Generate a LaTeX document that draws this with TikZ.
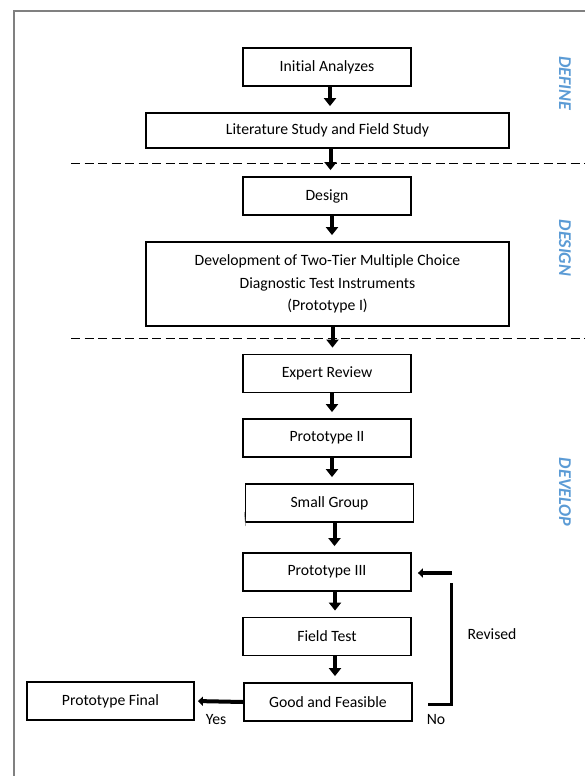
\documentclass[tikz,border=0pt]{standalone}
\usepackage{fontspec}
\setmainfont{Carlito}[Ligatures=NoCommon]
\usetikzlibrary{arrows.meta}
\definecolor{phaseblue}{RGB}{91,155,213}
\definecolor{framegray}{RGB}{128,128,128}

\begin{document}
\begin{tikzpicture}[x=1pt,y=-1pt,
  stagebox/.style={draw, line width=1.8pt, inner sep=0pt, align=center,
    font=\fontsize{15.7}{22.5}\selectfont},
  small/.style={stagebox, minimum width=168pt, minimum height=38pt},
  wide/.style={stagebox, minimum width=363pt},
  flow/.style={line width=4pt, shorten >=6pt, -{Triangle[length=8pt,width=12pt]}},
  sideflow/.style={line width=4pt, -{Triangle[length=5pt,width=9pt]}},
  phase/.style={rotate=-90, text=phaseblue, font=\fontsize{18}{20}\selectfont\bfseries\itshape},
  tag/.style={font=\fontsize{15.7}{18}\selectfont}]
%\draw[help lines] (0,0) grid (585,776);
\useasboundingbox (0,0) rectangle (585,776);

\draw[framegray, line width=1.5pt] (14,776) -- (14,11) -- (585,11);

\draw[line width=0.9pt, dash pattern=on 9pt off 4.5pt] (71,163) -- (585,163);
\draw[line width=0.9pt, dash pattern=on 9pt off 4.5pt] (71,338) -- (585,338);

\node[small] (init) at (327,67) {Initial Analyzes};
\node[wide, minimum height=35pt] (lit) at (327.5,130.5) {Literature Study and Field Study};
\node[small] (design) at (327,196) {Design};
\node[wide, minimum height=84pt] (dev) at (327.5,284) {Development of Two-Tier Multiple Choice\\Diagnostic Test Instruments\\(Prototype I)};
\node[small] (expert) at (327,373.5) {Expert Review};
\node[small] (proto2) at (327,438) {Prototype II};
\node[small] (smallgrp) at (329.5,503) {Small Group};
\node[small] (proto3) at (327,572) {Prototype III};
\node[small] (field) at (327,636.5) {Field Test};
\node[small] (good) at (328,702) {Good and Feasible};
\node[small, minimum width=167pt] (final) at (110.5,701) {Prototype Final};

\draw[flow] ([xshift=3pt]init.south) -- ([xshift=3pt]init.south |- lit.north);
\draw[flow] ([xshift=3pt]lit.south) -- ([xshift=3pt]lit.south |- design.north);
\draw[flow] ([xshift=5pt]design.south) -- ([xshift=5pt]design.south |- dev.north);
\draw[flow] ([xshift=5pt]dev.south) -- ([xshift=5pt]dev.south |- expert.north);
\draw[flow] ([xshift=5pt]expert.south) -- ([xshift=5pt]expert.south |- proto2.north);
\draw[flow] ([xshift=5pt]proto2.south) -- ([xshift=5pt]proto2.south |- smallgrp.north);
\draw[flow] ([xshift=5pt]smallgrp.south) -- ([xshift=5pt]smallgrp.south |- proto3.north);
\draw[flow] ([xshift=8pt]proto3.south) -- ([xshift=8pt]proto3.south |- field.north);
\draw[flow] ([xshift=8pt]field.south) -- ([xshift=8pt]field.south |- good.north);

\draw[sideflow, shorten >=3pt] (good.west) -- (final.east);

\coordinate (revtop) at (452,573);
\coordinate (revstart) at (451,583);
\coordinate (revcorner) at (451,704);
\coordinate (nostub) at (428,704);
\draw[sideflow, shorten >=6pt] (revtop) -- (revtop -| proto3.east);
\draw[line width=3pt] (revstart) -- (revcorner) -- (nostub);

\draw[framegray, line width=0.5pt] (244.3,512) -- (245.6,526);

\node[tag] (yes) at (216,720) {Yes};
\node[tag] (no) at (436,720) {No};
\node[tag] (revised) at (492,634) {Revised};

\node[phase] (define) at (565,83.5) {DEFINE};
\node[phase] (designlbl) at (565,248) {DESIGN};
\node[phase] (develop) at (565,492) {DEVELOP};
\end{tikzpicture}
\end{document}
